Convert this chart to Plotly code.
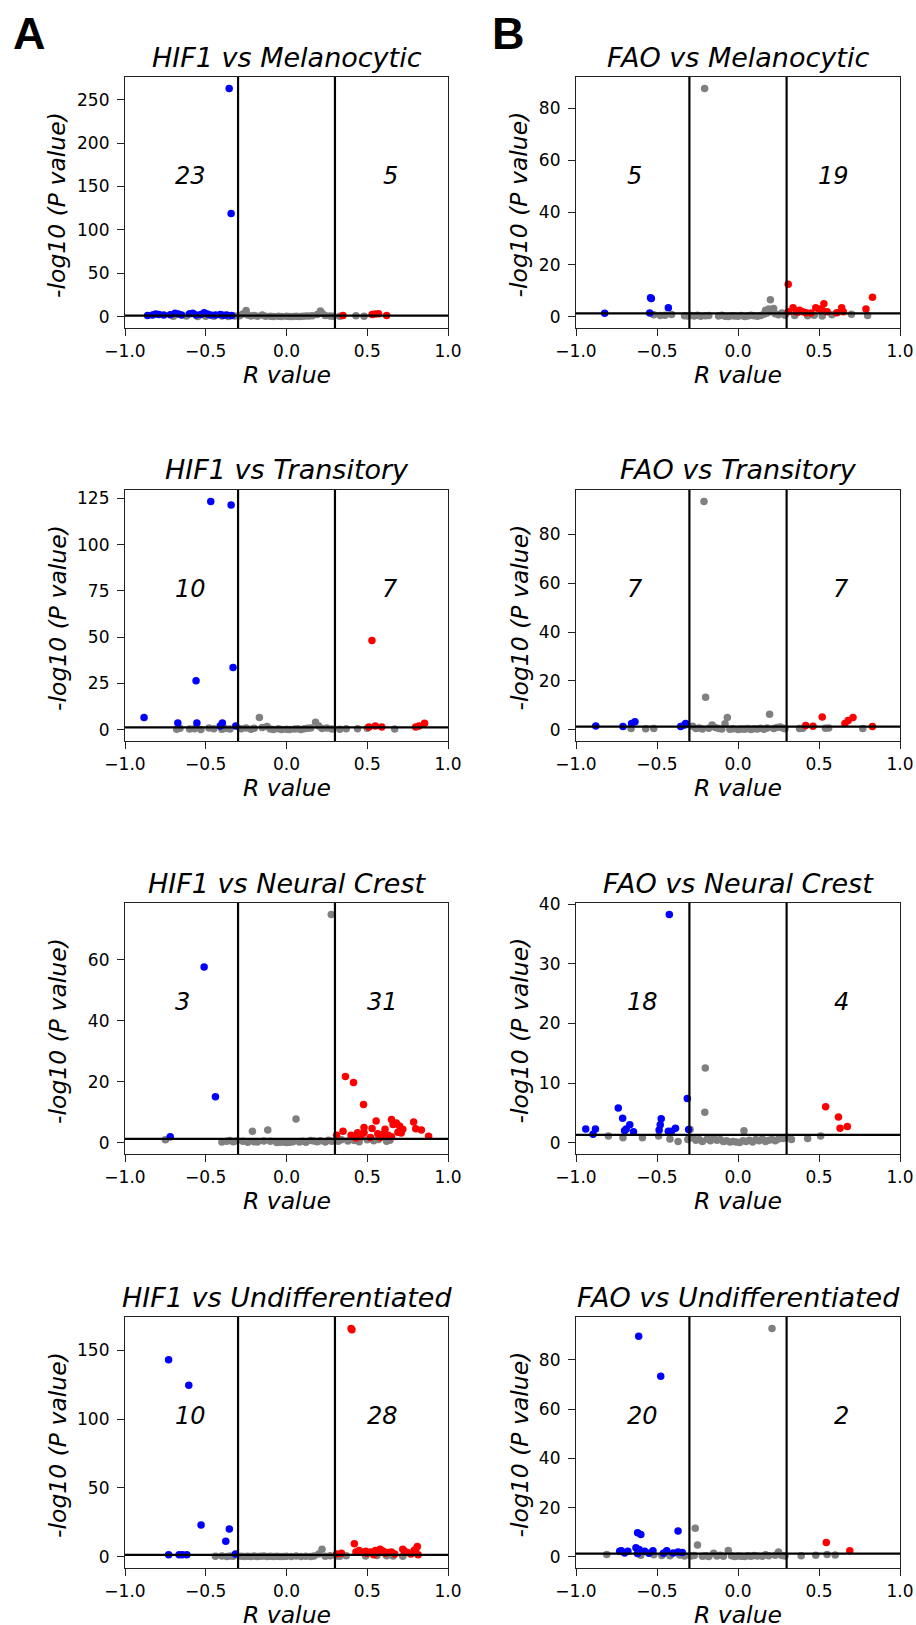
import plotly.graph_objects as go

# ---------------- data ----------------
hif1_mel_r = [-0.86, -0.83, -0.81, -0.79, -0.76, -0.72, -0.69, -0.67, -0.65, -0.60, -0.58, -0.56, -0.53, -0.51,
              -0.49, -0.47, -0.44, -0.41, -0.39, -0.37, -0.34, -0.355, -0.343,
              -0.70, -0.62, -0.55, -0.50, -0.45, -0.40, -0.36, -0.32,
              -0.29, -0.27, -0.25, -0.24, -0.22, -0.20, -0.18, -0.15, -0.13, -0.10, -0.08, -0.05, -0.03, 0.00,
              0.02, 0.04, 0.06, 0.08, 0.10, 0.12, 0.14, 0.16, 0.19, 0.21, 0.22, 0.24, 0.27, 0.29,
              0.33, 0.43, 0.48,
              0.35, 0.53, 0.55, 0.57, 0.62]
hif1_mel_p = [1.5, 2.0, 3.0, 2.5, 1.8, 2.2, 4.0, 3.0, 2.0, 3.5, 4.0, 2.0, 2.5, 4.5,
              3.0, 2.0, 1.8, 2.5, 1.6, 2.0, 1.5, 263, 119,
              0.5, 0.8, 0.3, 0.6, 0.4, 0.9, 0.2, 0.7,
              1.0, 3.0, 7.0, 2.0, 0.8, 1.5, 0.5, 1.8, 0.6, 0.4, 0.3, 0.6, 0.2, 0.5,
              0.3, 0.1, 0.4, 0.2, 0.5, 0.7, 0.9, 1.2, 2.5, 6.5, 4.0, 1.5, 0.8, 0.5,
              0.4, 1.0, 0.6,
              1.5, 2.5, 3.0, 3.5, 1.5]

hif1_tra_r = [-0.882, -0.469, -0.343, -0.331, -0.56, -0.673, -0.555, -0.397, -0.41, -0.314,
              -0.68, -0.66, -0.60, -0.57, -0.53, -0.48, -0.45, -0.40, -0.38, -0.35,
              -0.28, -0.25, -0.22, -0.20, -0.168, -0.15, -0.12, -0.10, -0.08, -0.05, -0.03, 0.0, 0.02, 0.05,
              0.07, 0.09, 0.11, 0.13, 0.15, 0.18, 0.20, 0.22, 0.25, 0.28,
              0.33, 0.37, 0.44, 0.50, 0.67,
              0.529, 0.55, 0.59, 0.80, 0.82, 0.855, 0.51]
hif1_tra_p = [6.6, 123.4, 121.4, 33.7, 26.5, 3.6, 3.6, 3.6, 2.0, 2.0,
              0.3, 0.8, 0.4, 0.6, 0.2, 0.9, 0.5, 0.3, 0.7, 0.4,
              0.5, 1.0, 0.3, 0.8, 6.6, 1.2, 1.8, 0.4, 0.2, 0.5, 0.1, 0.3, 0.2, 0.4,
              0.6, 0.2, 0.5, 0.8, 1.0, 4.0, 2.0, 0.7, 0.9, 0.4,
              0.3, 0.5, 0.6, 0.8, 0.4,
              48.3, 2.0, 1.5, 1.5, 2.0, 3.5, 1.5]

hif1_nc_r = [0.277, -0.75, -0.211, -0.116, 0.059,
             -0.51, -0.44, -0.72,
             -0.40, -0.37, -0.35, -0.33, -0.31,
             -0.27, -0.24, -0.20, -0.18, -0.14, -0.10, -0.06, -0.04, -0.02, 0.0, 0.02, 0.04, 0.08, 0.10,
             0.12, 0.15, 0.17, 0.19, 0.21, 0.24, 0.26, 0.28,
             0.32, 0.34, 0.38, 0.42, 0.45, 0.50, 0.54, 0.57, 0.62, 0.64,
             0.365, 0.415, 0.477, 0.555, 0.65, 0.68, 0.787, 0.70, 0.80, 0.835, 0.88, 0.35, 0.31, 0.40, 0.44,
             0.48, 0.48, 0.53, 0.565, 0.60, 0.61, 0.63, 0.66, 0.69, 0.72, 0.71, 0.65, 0.58, 0.46, 0.52, 0.43]
hif1_nc_p = [74.8, 1.0, 3.8, 4.2, 7.8,
             57.6, 15.1, 2.0,
             0.3, 0.5, 0.8, 0.4, 0.6,
             0.5, 0.2, 0.4, 0.3, 0.6, 0.5, 0.1, 0.2, 0.3, 0.1, 0.2, 0.4, 0.3, 0.5,
             0.2, 0.8, 0.6, 0.4, 0.7, 0.3, 0.9, 0.5,
             0.5, 1.0, 0.6, 0.8, 0.4, 1.0, 0.7, 1.1, 0.5, 0.9,
             21.7, 19.8, 12.6, 7.2, 7.7, 6.5, 6.8, 5.5, 4.6, 4.2, 2.2, 3.8, 2.5, 2.5, 3.3,
             5.0, 3.3, 4.7, 3.0, 2.8, 4.5, 2.5, 6.0, 3.5, 4.5, 3.2, 2.0, 1.8, 2.0, 1.8, 1.6]

hif1_und_r = [-0.73, -0.605, -0.529, -0.354, -0.376, -0.73, -0.665, -0.645, -0.617, -0.316,
              0.22, 0.20,
              -0.44, -0.40, -0.37, -0.35, -0.33,
              -0.28, -0.26, -0.24, -0.22, -0.20, -0.18, -0.16, -0.14, -0.12, -0.10, -0.08, -0.06, -0.04, -0.02,
              0.0, 0.03, 0.06, 0.09, 0.12, 0.15, 0.17, 0.24, 0.27,
              0.31, 0.33, 0.37, 0.49, 0.56, 0.62, 0.66, 0.72,
              0.40, 0.405, 0.42, 0.31, 0.34, 0.43, 0.45, 0.47, 0.49, 0.50, 0.52, 0.54, 0.55, 0.57, 0.58,
              0.60, 0.61, 0.63, 0.65, 0.67, 0.72, 0.73, 0.75, 0.77, 0.79, 0.80, 0.81, 0.815]
hif1_und_p = [143.2, 124.6, 23.0, 20.1, 11.3, 1.5, 1.5, 1.5, 1.5, 2.0,
              5.4, 2.0,
              0.3, 0.5, 0.2, 0.6, 0.4,
              0.3, 0.1, 0.4, 0.2, 0.5, 0.1, 0.3, 0.6, 0.2, 0.4, 0.1, 0.3, 0.2, 0.1,
              0.4, 0.2, 0.5, 0.1, 0.3, 0.2, 0.6, 0.4, 0.8,
              0.5, 0.3, 0.8, 0.6, 0.9, 0.7, 0.5, 0.4,
              166, 165, 9.5, 2.0, 2.5, 3.5, 4.5, 3.0, 4.0, 2.5, 3.5, 1.5, 4.5, 3.0, 5.5,
              4.0, 2.5, 3.0, 3.5, 2.0, 5.5, 4.0, 3.0, 2.0, 4.5, 5.5, 7.5, 1.5]

fao_mel_r = [-0.823, -0.54, -0.535, -0.545, -0.43,
             -0.206,
             -0.52, -0.48, -0.45, -0.41, -0.33, -0.31,
             -0.29, -0.27, -0.25, -0.23, -0.20, -0.18, -0.12, -0.10, -0.08, -0.06, -0.04, -0.02, 0.0, 0.02,
             0.04, 0.06, 0.08, 0.10, 0.12, 0.14, 0.16, 0.17, 0.18, 0.19, 0.20, 0.21, 0.22, 0.23, 0.25, 0.27, 0.29,
             0.35, 0.43, 0.47, 0.52, 0.58, 0.70, 0.80,
             0.31, 0.31, 0.34, 0.36, 0.37, 0.38, 0.40, 0.42, 0.45, 0.48, 0.50, 0.53, 0.55, 0.64, 0.65, 0.79,
             0.83, 0.52, 0.61]
fao_mel_p = [1.4, 7.3, 7.0, 1.5, 3.5,
             87.6,
             0.8, 0.5, 0.6, 0.9, 0.4, 0.3,
             0.5, 0.3, 0.6, 0.2, 0.4, 0.5, 0.3, 0.6, 0.2, 0.1, 0.4, 0.3, 0.2, 0.5,
             0.1, 0.3, 0.6, 0.4, 0.2, 0.5, 1.0, 2.5, 1.5, 3.0, 6.6, 2.0, 3.2, 1.2, 0.8, 1.5, 0.6,
             0.5, 0.4, 0.6, 0.3, 0.8, 1.0, 0.5,
             2.0, 12.5, 3.5, 2.0, 1.8, 2.5, 2.0, 1.6, 1.5, 3.5, 3.0, 5.0, 2.0, 3.5, 2.0, 3.0,
             7.5, 2.5, 1.6]

fao_tra_r = [-0.21, -0.20, -0.066, 0.195,
             -0.878, -0.71, -0.657, -0.636, -0.354, -0.323, -0.33,
             0.418, 0.463, 0.52, 0.66, 0.68, 0.71, 0.83,
             -0.66, -0.57, -0.52,
             -0.28, -0.26, -0.24, -0.22, -0.18, -0.16, -0.14, -0.12, -0.10, -0.08, -0.05, -0.03, 0.0, 0.02,
             0.04, 0.06, 0.08, 0.10, 0.12, 0.14, 0.16, 0.18, 0.22, 0.24, 0.26, 0.28, 0.29,
             0.38, 0.40, 0.54, 0.56, 0.77]
fao_tra_p = [93.5, 13.3, 5.0, 6.4,
             1.6, 1.4, 2.6, 3.3, 1.4, 2.6, 2.0,
             1.8, 1.5, 5.3, 2.6, 3.8, 5.0, 1.4,
             0.5, 0.4, 0.5,
             1.5, 0.5, 0.8, 0.3, 0.6, 2.0, 1.0, 0.5, 0.3, 2.5, 0.2, 0.4, 0.1, 0.3,
             0.2, 0.5, 0.1, 0.4, 0.3, 0.6, 0.2, 0.8, 0.5, 1.0, 1.2, 0.6, 0.4,
             0.5, 0.7, 0.6, 0.8, 0.5]

fao_nc_r = [-0.424, -0.313, -0.739, -0.712, -0.94, -0.88, -0.895, -0.69, -0.668, -0.645, -0.474, -0.48,
            -0.487, -0.43, -0.41, -0.386, -0.305, -0.70,
            -0.202, -0.205, 0.037, 0.51, 0.43, -0.80, -0.71, -0.59, -0.49, -0.42, -0.37, -0.31, -0.296,
            -0.28, -0.26, -0.24, -0.22, -0.19, -0.17, -0.15, -0.13, -0.11, -0.09, -0.07, -0.05, -0.03, -0.01,
            0.01, 0.03, 0.05, 0.07, 0.09, 0.11, 0.13, 0.15, 0.17, 0.19, 0.21, 0.23, 0.25, 0.28, 0.30, 0.33,
            0.541, 0.62, 0.63, 0.675]
fao_nc_p = [38.3, 7.4, 5.8, 4.1, 2.3, 2.3, 1.4, 2.3, 3.0, 1.8, 4.0, 3.0,
            2.1, 1.9, 1.9, 2.4, 2.2, 2.0,
            12.5, 5.1, 2.0, 1.1, 0.7, 1.1, 0.8, 0.8, 1.1, 0.6, 0.2, 0.5, 2.2,
            0.8, 0.4, 0.5, 0.2, 0.6, 0.3, 0.8, 0.4, 0.5, 0.2, 0.3, 0.1, 0.2, 0.1,
            0.0, 0.3, 0.2, 0.4, 0.1, 0.5, 0.3, 0.6, 0.2, 0.4, 0.5, 0.3, 0.6, 0.7, 0.9, 0.5,
            6.0, 4.3, 2.4, 2.7]

fao_und_r = [-0.613, -0.477, -0.37, -0.62, -0.60, -0.72, -0.73, -0.68, -0.63, -0.61, -0.576, -0.525,
             -0.44, -0.37, -0.344, -0.46, -0.62, -0.70, -0.55, -0.40,
             0.21, -0.264, -0.25, -0.06, 0.25,
             -0.81, -0.60, -0.52, -0.47, -0.42, -0.36, -0.33,
             -0.29, -0.27, -0.22, -0.20, -0.18, -0.15, -0.13, -0.11, -0.09, -0.04, -0.02, 0.0, 0.02, 0.04,
             0.06, 0.08, 0.10, 0.12, 0.15, 0.17, 0.19, 0.23, 0.27, 0.29,
             0.39, 0.48, 0.55, 0.60,
             0.545, 0.69]
fao_und_p = [89.6, 73.4, 10.5, 9.8, 9.1, 2.5, 2.3, 2.3, 3.7, 3.0, 2.3, 2.5,
             2.5, 2.0, 1.8, 1.5, 1.4, 1.6, 1.5, 1.6,
             92.8, 11.6, 4.8, 2.6, 2.0,
             0.9, 0.6, 0.8, 0.5, 0.4, 0.7, 0.3,
             0.3, 0.5, 0.2, 0.4, 0.1, 1.5, 0.3, 0.6, 0.2, 0.4, 0.1, 0.3, 0.2, 0.1,
             0.4, 0.2, 0.5, 0.3, 0.2, 0.8, 0.4, 0.6, 0.5, 0.3,
             0.4, 0.6, 1.0, 0.7,
             5.8, 2.5]

titles = ["HIF1 vs Melanocytic", "FAO vs Melanocytic",
          "HIF1 vs Transitory", "FAO vs Transitory",
          "HIF1 vs Neural Crest", "FAO vs Neural Crest",
          "HIF1 vs Undifferentiated", "FAO vs Undifferentiated"]
left_counts = ["23", "5", "10", "7", "3", "18", "10", "20"]
right_counts = ["5", "19", "7", "7", "31", "4", "28", "2"]
y_dticks = [50, 20, 25, 20, 20, 10, 50, 20]
x_tickvals = [-1.0, -0.5, 0.0, 0.5, 1.0]
x_ticktext = ["\u22121.0", "\u22120.5", "0.0", "0.5", "1.0"]
r_cut = 0.3
p_cut = 1.3

panel_r = [hif1_mel_r, fao_mel_r, hif1_tra_r, fao_tra_r, hif1_nc_r, fao_nc_r, hif1_und_r, fao_und_r]
panel_p = [hif1_mel_p, fao_mel_p, hif1_tra_p, fao_tra_p, hif1_nc_p, fao_nc_p, hif1_und_p, fao_und_p]

# ---------------- layout geometry ----------------
W, H = 916, 1625
col_x = [(125, 448), (576, 900)]
row_top = [77, 490, 903, 1317]
ax_h = 251
ylab_x = [57.5, 519]

def fx(px):
    return px / W

def fy(py):
    return 1 - py / H

FONT = "DejaVu Sans"
BLUE, RED, GREY = "#0000ff", "#ff0000", "#808080"

fig = go.Figure()
layout = dict(width=W, height=H, margin=dict(l=0, r=0, t=0, b=0, autoexpand=False),
              paper_bgcolor="white", plot_bgcolor="white", showlegend=False)
shapes, annotations = [], []

for i in range(8):
    row, col = divmod(i, 2)
    xs = "x" if i == 0 else f"x{i+1}"
    ys = "y" if i == 0 else f"y{i+1}"
    r, p = panel_r[i], panel_p[i]
    groups = {GREY: ([], []), BLUE: ([], []), RED: ([], [])}
    for rv, pv in zip(r, p):
        if pv > p_cut and rv <= -r_cut:
            c = BLUE
        elif pv > p_cut and rv >= r_cut:
            c = RED
        else:
            c = GREY
        groups[c][0].append(rv)
        groups[c][1].append(pv)
    for c in (GREY, BLUE, RED):
        fig.add_trace(go.Scatter(x=groups[c][0], y=groups[c][1], mode="markers",
                                 marker=dict(color=c, size=7.5, line=dict(width=0)),
                                 xaxis=xs, yaxis=ys, hoverinfo="skip"))
    pmin, pmax = min(p), max(p)
    span = pmax - pmin
    yr = [pmin - 0.05 * span, pmax + 0.05 * span]
    x0, x1 = col_x[col]
    top = row_top[row]
    bot = top + ax_h
    axis_common = dict(showline=True, mirror=True, linecolor="#222222", linewidth=1.2,
                       ticks="outside", ticklen=7, tickwidth=1.2, tickcolor="#222222",
                       showgrid=False, zeroline=False,
                       tickfont=dict(family=FONT, size=17, color="black"))
    layout["xaxis" if i == 0 else f"xaxis{i+1}"] = dict(
        domain=[fx(x0), fx(x1)], range=[-1, 1], anchor=ys,
        tickmode="array", tickvals=x_tickvals, ticktext=x_ticktext, **axis_common)
    layout["yaxis" if i == 0 else f"yaxis{i+1}"] = dict(
        domain=[fy(bot), fy(top)], range=yr, anchor=xs, ticklabelstandoff=4,
        tickmode="linear", tick0=0, dtick=y_dticks[i], **axis_common)
    # threshold lines
    for xv in (-r_cut, r_cut):
        shapes.append(dict(type="line", xref=xs, yref=f"{ys} domain", x0=xv, x1=xv, y0=0, y1=1,
                           line=dict(color="black", width=2.2)))
    shapes.append(dict(type="line", xref=f"{xs} domain", yref=ys, x0=0, x1=1, y0=p_cut, y1=p_cut,
                       line=dict(color="black", width=2.2)))
    # title
    annotations.append(dict(text=titles[i], xref="paper", yref="paper",
                            x=fx((x0 + x1) / 2), y=fy(top - 20), xanchor="center", yanchor="middle",
                            showarrow=False, font=dict(family=FONT, size=27, color="black", style="italic")))
    # counts
    annotations.append(dict(text=left_counts[i], xref=xs, yref=f"{ys} domain", x=-0.7, y=0.605,
                            xanchor="left", yanchor="middle", showarrow=False,
                            font=dict(family=FONT, size=24, color="black", style="italic")))
    annotations.append(dict(text=right_counts[i], xref=xs, yref=f"{ys} domain", x=0.7, y=0.605,
                            xanchor="right", yanchor="middle", showarrow=False,
                            font=dict(family=FONT, size=24, color="black", style="italic")))
    # axis labels
    annotations.append(dict(text="R value", xref="paper", yref="paper",
                            x=fx((x0 + x1) / 2), y=fy(bot + 47), xanchor="center", yanchor="middle",
                            showarrow=False, font=dict(family=FONT, size=23.5, color="black", style="italic")))
    annotations.append(dict(text="-log10 (P value)", xref="paper", yref="paper", textangle=-90,
                            x=fx(ylab_x[col]), y=fy(top + ax_h / 2 + 2), xanchor="center", yanchor="middle",
                            showarrow=False, font=dict(family=FONT, size=23.5, color="black", style="italic")))

# panel letters
for letter, lx in (("A", 11), ("B", 490)):
    annotations.append(dict(text="<b>%s</b>" % letter, xref="paper", yref="paper",
                            x=fx(lx), y=fy(33), xanchor="left", yanchor="middle", showarrow=False,
                            font=dict(family="Liberation Sans", size=45, color="black")))

layout["shapes"] = shapes
layout["annotations"] = annotations
fig.update_layout(**layout)
fig.write_html("out.html")
